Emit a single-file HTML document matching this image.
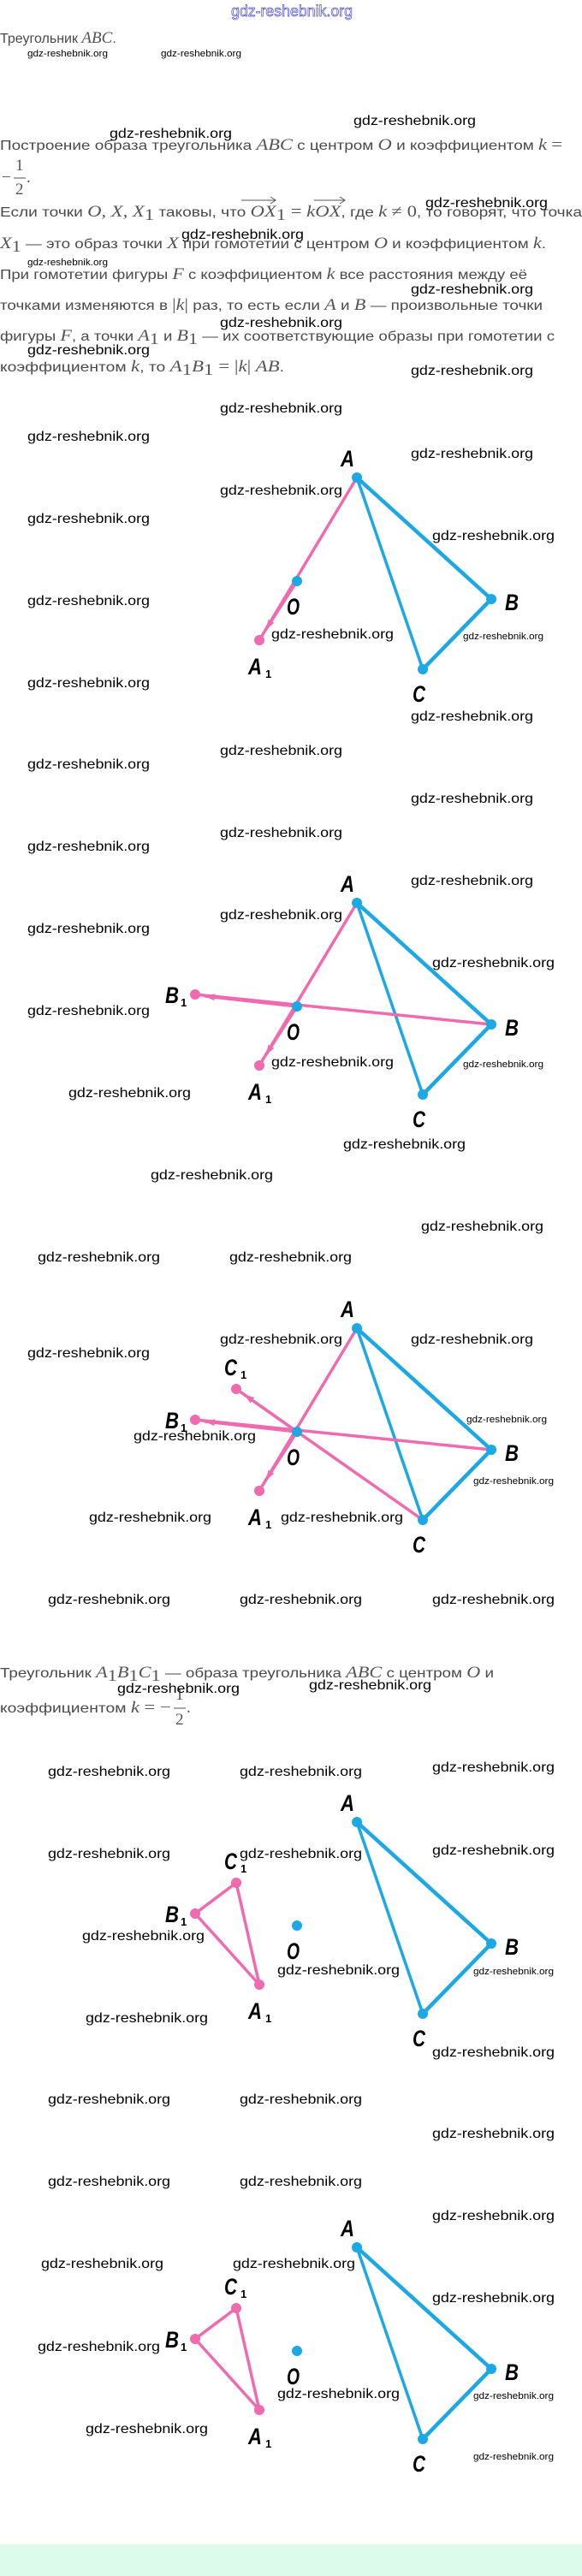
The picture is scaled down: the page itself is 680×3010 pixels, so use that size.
<!DOCTYPE html>
<html><head><meta charset="utf-8">
<style>
html,body{margin:0;padding:0;background:#fff;}
svg{display:block;}
.t{font-family:"Liberation Sans",sans-serif;font-size:16px;fill:#4a4a4a;}
.m{font-family:"Liberation Serif",serif;font-style:italic;font-size:19px;fill:#555;}
.mr{font-family:"Liberation Serif",serif;font-size:19px;fill:#555;}
.w{font-family:"Liberation Sans",sans-serif;font-size:16px;fill:#000;}
.ws{font-family:"Liberation Sans",sans-serif;font-size:11px;fill:#000;}
.L{font-family:"Liberation Sans",sans-serif;font-weight:bold;font-style:italic;font-size:27px;fill:#000;}
.Ls{font-family:"Liberation Sans",sans-serif;font-weight:bold;font-size:13px;fill:#000;}
.bl{stroke:#1ca8e4;fill:none;stroke-linecap:round;}
.pk{stroke:#ef6aae;fill:none;stroke-linecap:round;stroke-width:3.5;}
</style></head>
<body>
<svg width="680" height="3010" viewBox="0 0 680 3010" xmlns="http://www.w3.org/2000/svg">
<defs>
<marker id="ar" viewBox="0 0 12 8" refX="11" refY="4" markerWidth="12" markerHeight="8" markerUnits="userSpaceOnUse" orient="auto">
<path d="M0,0 L12,4 L0,8 Z" fill="#ef6aae"/>
</marker>
<g id="lbls">
<text class="L" x="398" y="545" textLength="16" lengthAdjust="spacingAndGlyphs">A</text>
<text class="L" x="590" y="713" textLength="16" lengthAdjust="spacingAndGlyphs">B</text>
<text class="L" x="482" y="820" textLength="15" lengthAdjust="spacingAndGlyphs">C</text>
<text class="L" x="335" y="718" textLength="15" lengthAdjust="spacingAndGlyphs">O</text>
<text class="L" x="290" y="788" textLength="16" lengthAdjust="spacingAndGlyphs">A</text><text class="Ls" x="310" y="792">1</text>
</g>
<g id="tri">
<line class="bl" x1="417" y1="558" x2="574" y2="700" stroke-width="4.5"/>
<line class="bl" x1="574" y1="700" x2="494" y2="782" stroke-width="4.5"/>
<line class="bl" x1="417" y1="558" x2="494" y2="782" stroke-width="3.5"/>
</g>
<g id="bdots">
<circle cx="417" cy="558" r="6" fill="#1ca8e4"/>
<circle cx="574" cy="700" r="6" fill="#1ca8e4"/>
<circle cx="494" cy="782" r="6" fill="#1ca8e4"/>
<circle cx="347" cy="679" r="6" fill="#1ca8e4"/>
</g>
<g id="lB1"><text class="L" x="193" y="675" textLength="16" lengthAdjust="spacingAndGlyphs">B</text><text class="Ls" x="211" y="679">1</text></g>
<g id="lC1"><text class="L" x="262" y="613" textLength="15" lengthAdjust="spacingAndGlyphs">C</text><text class="Ls" x="281" y="617">1</text></g>
</defs>
<rect x="0" y="2973" width="680" height="37" fill="#dcfbea"/>

<text x="270" y="19" font-family="Liberation Sans,sans-serif" font-size="18" fill="none" stroke="#4a4ae0" stroke-width="0.7" textLength="142" lengthAdjust="spacingAndGlyphs">gdz-reshebnik.org</text>

<text class="t" x="0" y="50">Треугольник <tspan class="m">ABC</tspan>.</text>
<text class="t" x="0" y="175" textLength="657" lengthAdjust="spacingAndGlyphs">Построение образа треугольника <tspan class="m">ABC</tspan> с центром <tspan class="m">O</tspan> и коэффициентом <tspan class="m">k</tspan> <tspan class="mr">=</tspan></text>
<text class="mr" x="2" y="213">−</text>
<text class="mr" x="18" y="199">1</text>
<line x1="16" y1="208" x2="30" y2="208" stroke="#555" stroke-width="1"/>
<text class="mr" x="18" y="227">2</text>
<text class="mr" x="31" y="213">.</text>
<text class="t" x="0" y="253" textLength="680" lengthAdjust="spacingAndGlyphs">Если точки <tspan class="m">O, X, X</tspan><tspan class="mr" font-size="13" dy="4">1</tspan><tspan dy="-4"> таковы, что </tspan><tspan class="m">OX</tspan><tspan class="mr" font-size="13" dy="4">1</tspan><tspan class="mr" dy="-4"> = </tspan><tspan class="m">kOX</tspan>, где <tspan class="m">k</tspan> <tspan class="mr">≠ 0</tspan>, то говорят, что точка</text>
<line x1="282" y1="234" x2="322" y2="234" stroke="#555" stroke-width="1"/>
<path d="M316,230 L322,234 L316,238" fill="none" stroke="#555" stroke-width="1"/>
<line x1="367" y1="234" x2="403" y2="234" stroke="#555" stroke-width="1"/>
<path d="M397,230 L403,234 L397,238" fill="none" stroke="#555" stroke-width="1"/>
<text class="t" x="0" y="290" textLength="638" lengthAdjust="spacingAndGlyphs"><tspan class="m">X</tspan><tspan class="mr" font-size="13" dy="4">1</tspan><tspan dy="-4"> — это образ точки </tspan><tspan class="m">X</tspan> при гомотетии с центром <tspan class="m">O</tspan> и коэффициентом <tspan class="m">k</tspan>.</text>
<text class="t" x="0" y="326" textLength="616" lengthAdjust="spacingAndGlyphs">При гомотетии фигуры <tspan class="m">F</tspan> с коэффициентом <tspan class="m">k</tspan> все расстояния между её</text>
<text class="t" x="0" y="362" textLength="634" lengthAdjust="spacingAndGlyphs">точками изменяются в <tspan class="mr">|</tspan><tspan class="m">k</tspan><tspan class="mr">|</tspan> раз, то есть если <tspan class="m">A</tspan> и <tspan class="m">B</tspan> — произвольные точки</text>
<text class="t" x="0" y="398" textLength="648" lengthAdjust="spacingAndGlyphs">фигуры <tspan class="m">F</tspan>, а точки <tspan class="m">A</tspan><tspan class="mr" font-size="13" dy="4">1</tspan><tspan dy="-4"> и </tspan><tspan class="m">B</tspan><tspan class="mr" font-size="13" dy="4">1</tspan><tspan dy="-4"> — их соответствующие образы при гомотетии с</tspan></text>
<text class="t" x="0" y="434" textLength="332" lengthAdjust="spacingAndGlyphs">коэффициентом <tspan class="m">k</tspan>, то <tspan class="m">A</tspan><tspan class="mr" font-size="13" dy="4">1</tspan><tspan class="m" dy="-4">B</tspan><tspan class="mr" font-size="13" dy="4">1</tspan><tspan class="mr" dy="-4"> = |</tspan><tspan class="m">k</tspan><tspan class="mr">|</tspan> <tspan class="m">AB</tspan>.</text>

<text class="t" x="0" y="1960" textLength="577" lengthAdjust="spacingAndGlyphs">Треугольник <tspan class="m">A</tspan><tspan class="mr" font-size="13" dy="4">1</tspan><tspan class="m" dy="-4">B</tspan><tspan class="mr" font-size="13" dy="4">1</tspan><tspan class="m" dy="-4">C</tspan><tspan class="mr" font-size="13" dy="4">1</tspan><tspan dy="-4"> — образа треугольника </tspan><tspan class="m">ABC</tspan> с центром <tspan class="m">O</tspan> и</text>
<text class="t" x="0" y="2001" textLength="200" lengthAdjust="spacingAndGlyphs">коэффициентом <tspan class="m">k</tspan> <tspan class="mr">= −</tspan></text>
<text class="mr" x="205" y="1986">1</text>
<line x1="203" y1="1996" x2="217" y2="1996" stroke="#555" stroke-width="1"/>
<text class="mr" x="205" y="2015">2</text>
<text class="mr" x="218" y="2001">.</text>

<!-- Diagram 1 -->
<g>
<use href="#tri"/>
<line class="pk" x1="417" y1="558" x2="303" y2="748"/>
<line class="pk" x1="347" y1="679" x2="311" y2="735" marker-end="url(#ar)"/>
<circle cx="303" cy="748" r="6" fill="#ef6aae"/>
<use href="#bdots"/><use href="#lbls"/>
</g>

<!-- Diagram 2 -->
<g transform="translate(0,497)">
<use href="#tri"/>
<line class="pk" x1="417" y1="558" x2="303" y2="748"/>
<line class="pk" x1="347" y1="679" x2="311" y2="735" marker-end="url(#ar)"/>
<line class="pk" x1="574" y1="700" x2="228" y2="665" stroke-width="4.5"/>
<line class="pk" x1="347" y1="679" x2="240" y2="667" marker-end="url(#ar)" stroke-width="4"/>
<circle cx="303" cy="748" r="6" fill="#ef6aae"/>
<circle cx="228" cy="665" r="6" fill="#ef6aae"/>
<use href="#bdots"/><use href="#lbls"/><use href="#lB1"/>
</g>

<!-- Diagram 3 -->
<g transform="translate(0,994)">
<use href="#tri"/>
<line class="pk" x1="417" y1="558" x2="303" y2="748"/>
<line class="pk" x1="347" y1="679" x2="311" y2="735" marker-end="url(#ar)"/>
<line class="pk" x1="574" y1="700" x2="228" y2="665" stroke-width="4.5"/>
<line class="pk" x1="347" y1="679" x2="240" y2="667" marker-end="url(#ar)" stroke-width="4"/>
<line class="pk" x1="494" y1="782" x2="276" y2="629"/>
<line class="pk" x1="347" y1="679" x2="286" y2="636" marker-end="url(#ar)"/>
<circle cx="303" cy="748" r="6" fill="#ef6aae"/>
<circle cx="228" cy="665" r="6" fill="#ef6aae"/>
<circle cx="276" cy="629" r="6" fill="#ef6aae"/>
<use href="#bdots"/><use href="#lbls"/><use href="#lB1"/><use href="#lC1"/>
</g>

<!-- Diagram 4 -->
<g transform="translate(0,1571)">
<use href="#tri"/>
<polygon points="303,748 228,665 276,629" fill="none" stroke="#ef6aae" stroke-width="3.5" stroke-linejoin="round"/>
<circle cx="303" cy="748" r="6" fill="#ef6aae"/>
<circle cx="228" cy="665" r="6" fill="#ef6aae"/>
<circle cx="276" cy="629" r="6" fill="#ef6aae"/>
<use href="#bdots"/><use href="#lbls"/><use href="#lB1"/><use href="#lC1"/>
</g>

<!-- Diagram 5 -->
<g transform="translate(0,2068)">
<use href="#tri"/>
<polygon points="303,748 228,665 276,629" fill="none" stroke="#ef6aae" stroke-width="3.5" stroke-linejoin="round"/>
<circle cx="303" cy="748" r="6" fill="#ef6aae"/>
<circle cx="228" cy="665" r="6" fill="#ef6aae"/>
<circle cx="276" cy="629" r="6" fill="#ef6aae"/>
<use href="#bdots"/><use href="#lbls"/><use href="#lB1"/><use href="#lC1"/>
</g>

<g class="w">
<text x="413" y="146" textLength="143" lengthAdjust="spacingAndGlyphs">gdz-reshebnik.org</text>
<text x="128" y="161" textLength="143" lengthAdjust="spacingAndGlyphs">gdz-reshebnik.org</text>
<text x="497" y="242" textLength="143" lengthAdjust="spacingAndGlyphs">gdz-reshebnik.org</text>
<text x="212" y="279" textLength="143" lengthAdjust="spacingAndGlyphs">gdz-reshebnik.org</text>
<text x="480" y="343" textLength="143" lengthAdjust="spacingAndGlyphs">gdz-reshebnik.org</text>
<text x="257" y="382" textLength="143" lengthAdjust="spacingAndGlyphs">gdz-reshebnik.org</text>
<text x="32" y="414" textLength="143" lengthAdjust="spacingAndGlyphs">gdz-reshebnik.org</text>
<text x="480" y="438" textLength="143" lengthAdjust="spacingAndGlyphs">gdz-reshebnik.org</text>
<text x="257" y="482" textLength="143" lengthAdjust="spacingAndGlyphs">gdz-reshebnik.org</text>
<text x="32" y="515" textLength="143" lengthAdjust="spacingAndGlyphs">gdz-reshebnik.org</text>
<text x="480" y="535" textLength="143" lengthAdjust="spacingAndGlyphs">gdz-reshebnik.org</text>
<text x="257" y="578" textLength="143" lengthAdjust="spacingAndGlyphs">gdz-reshebnik.org</text>
<text x="32" y="611" textLength="143" lengthAdjust="spacingAndGlyphs">gdz-reshebnik.org</text>
<text x="505" y="631" textLength="143" lengthAdjust="spacingAndGlyphs">gdz-reshebnik.org</text>
<text x="32" y="707" textLength="143" lengthAdjust="spacingAndGlyphs">gdz-reshebnik.org</text>
<text x="317" y="746" textLength="143" lengthAdjust="spacingAndGlyphs">gdz-reshebnik.org</text>
<text x="32" y="803" textLength="143" lengthAdjust="spacingAndGlyphs">gdz-reshebnik.org</text>
<text x="480" y="842" textLength="143" lengthAdjust="spacingAndGlyphs">gdz-reshebnik.org</text>
<text x="257" y="882" textLength="143" lengthAdjust="spacingAndGlyphs">gdz-reshebnik.org</text>
<text x="32" y="898" textLength="143" lengthAdjust="spacingAndGlyphs">gdz-reshebnik.org</text>
<text x="480" y="938" textLength="143" lengthAdjust="spacingAndGlyphs">gdz-reshebnik.org</text>
<text x="257" y="978" textLength="143" lengthAdjust="spacingAndGlyphs">gdz-reshebnik.org</text>
<text x="32" y="994" textLength="143" lengthAdjust="spacingAndGlyphs">gdz-reshebnik.org</text>
<text x="480" y="1034" textLength="143" lengthAdjust="spacingAndGlyphs">gdz-reshebnik.org</text>
<text x="257" y="1074" textLength="143" lengthAdjust="spacingAndGlyphs">gdz-reshebnik.org</text>
<text x="32" y="1090" textLength="143" lengthAdjust="spacingAndGlyphs">gdz-reshebnik.org</text>
<text x="505" y="1130" textLength="143" lengthAdjust="spacingAndGlyphs">gdz-reshebnik.org</text>
<text x="32" y="1186" textLength="143" lengthAdjust="spacingAndGlyphs">gdz-reshebnik.org</text>
<text x="317" y="1246" textLength="143" lengthAdjust="spacingAndGlyphs">gdz-reshebnik.org</text>
<text x="80" y="1282" textLength="143" lengthAdjust="spacingAndGlyphs">gdz-reshebnik.org</text>
<text x="401" y="1342" textLength="143" lengthAdjust="spacingAndGlyphs">gdz-reshebnik.org</text>
<text x="176" y="1378" textLength="143" lengthAdjust="spacingAndGlyphs">gdz-reshebnik.org</text>
<text x="492" y="1438" textLength="143" lengthAdjust="spacingAndGlyphs">gdz-reshebnik.org</text>
<text x="44" y="1474" textLength="143" lengthAdjust="spacingAndGlyphs">gdz-reshebnik.org</text>
<text x="268" y="1474" textLength="143" lengthAdjust="spacingAndGlyphs">gdz-reshebnik.org</text>
<text x="257" y="1570" textLength="143" lengthAdjust="spacingAndGlyphs">gdz-reshebnik.org</text>
<text x="480" y="1570" textLength="143" lengthAdjust="spacingAndGlyphs">gdz-reshebnik.org</text>
<text x="32" y="1586" textLength="143" lengthAdjust="spacingAndGlyphs">gdz-reshebnik.org</text>
<text x="156" y="1683" textLength="143" lengthAdjust="spacingAndGlyphs">gdz-reshebnik.org</text>
<text x="104" y="1778" textLength="143" lengthAdjust="spacingAndGlyphs">gdz-reshebnik.org</text>
<text x="328" y="1778" textLength="143" lengthAdjust="spacingAndGlyphs">gdz-reshebnik.org</text>
<text x="56" y="1874" textLength="143" lengthAdjust="spacingAndGlyphs">gdz-reshebnik.org</text>
<text x="280" y="1874" textLength="143" lengthAdjust="spacingAndGlyphs">gdz-reshebnik.org</text>
<text x="505" y="1874" textLength="143" lengthAdjust="spacingAndGlyphs">gdz-reshebnik.org</text>
<text x="137" y="1978" textLength="143" lengthAdjust="spacingAndGlyphs">gdz-reshebnik.org</text>
<text x="361" y="1974" textLength="143" lengthAdjust="spacingAndGlyphs">gdz-reshebnik.org</text>
<text x="56" y="2075" textLength="143" lengthAdjust="spacingAndGlyphs">gdz-reshebnik.org</text>
<text x="280" y="2075" textLength="143" lengthAdjust="spacingAndGlyphs">gdz-reshebnik.org</text>
<text x="505" y="2070" textLength="143" lengthAdjust="spacingAndGlyphs">gdz-reshebnik.org</text>
<text x="56" y="2171" textLength="143" lengthAdjust="spacingAndGlyphs">gdz-reshebnik.org</text>
<text x="280" y="2171" textLength="143" lengthAdjust="spacingAndGlyphs">gdz-reshebnik.org</text>
<text x="505" y="2167" textLength="143" lengthAdjust="spacingAndGlyphs">gdz-reshebnik.org</text>
<text x="96" y="2267" textLength="143" lengthAdjust="spacingAndGlyphs">gdz-reshebnik.org</text>
<text x="324" y="2307" textLength="143" lengthAdjust="spacingAndGlyphs">gdz-reshebnik.org</text>
<text x="100" y="2363" textLength="143" lengthAdjust="spacingAndGlyphs">gdz-reshebnik.org</text>
<text x="505" y="2403" textLength="143" lengthAdjust="spacingAndGlyphs">gdz-reshebnik.org</text>
<text x="56" y="2458" textLength="143" lengthAdjust="spacingAndGlyphs">gdz-reshebnik.org</text>
<text x="280" y="2458" textLength="143" lengthAdjust="spacingAndGlyphs">gdz-reshebnik.org</text>
<text x="505" y="2498" textLength="143" lengthAdjust="spacingAndGlyphs">gdz-reshebnik.org</text>
<text x="56" y="2554" textLength="143" lengthAdjust="spacingAndGlyphs">gdz-reshebnik.org</text>
<text x="280" y="2554" textLength="143" lengthAdjust="spacingAndGlyphs">gdz-reshebnik.org</text>
<text x="505" y="2594" textLength="143" lengthAdjust="spacingAndGlyphs">gdz-reshebnik.org</text>
<text x="48" y="2650" textLength="143" lengthAdjust="spacingAndGlyphs">gdz-reshebnik.org</text>
<text x="272" y="2650" textLength="143" lengthAdjust="spacingAndGlyphs">gdz-reshebnik.org</text>
<text x="505" y="2690" textLength="143" lengthAdjust="spacingAndGlyphs">gdz-reshebnik.org</text>
<text x="44" y="2747" textLength="143" lengthAdjust="spacingAndGlyphs">gdz-reshebnik.org</text>
<text x="324" y="2802" textLength="143" lengthAdjust="spacingAndGlyphs">gdz-reshebnik.org</text>
<text x="100" y="2843" textLength="143" lengthAdjust="spacingAndGlyphs">gdz-reshebnik.org</text>
</g>
<g class="ws">
<text x="32" y="66" textLength="94" lengthAdjust="spacingAndGlyphs">gdz-reshebnik.org</text>
<text x="188" y="66" textLength="94" lengthAdjust="spacingAndGlyphs">gdz-reshebnik.org</text>
<text x="32" y="310" textLength="94" lengthAdjust="spacingAndGlyphs">gdz-reshebnik.org</text>
<text x="541" y="747" textLength="94" lengthAdjust="spacingAndGlyphs">gdz-reshebnik.org</text>
<text x="541" y="1247" textLength="94" lengthAdjust="spacingAndGlyphs">gdz-reshebnik.org</text>
<text x="545" y="1662" textLength="94" lengthAdjust="spacingAndGlyphs">gdz-reshebnik.org</text>
<text x="553" y="1734" textLength="94" lengthAdjust="spacingAndGlyphs">gdz-reshebnik.org</text>
<text x="553" y="2307" textLength="94" lengthAdjust="spacingAndGlyphs">gdz-reshebnik.org</text>
<text x="553" y="2803" textLength="94" lengthAdjust="spacingAndGlyphs">gdz-reshebnik.org</text>
<text x="553" y="2874" textLength="94" lengthAdjust="spacingAndGlyphs">gdz-reshebnik.org</text>
</g>
</svg>
</body></html>
